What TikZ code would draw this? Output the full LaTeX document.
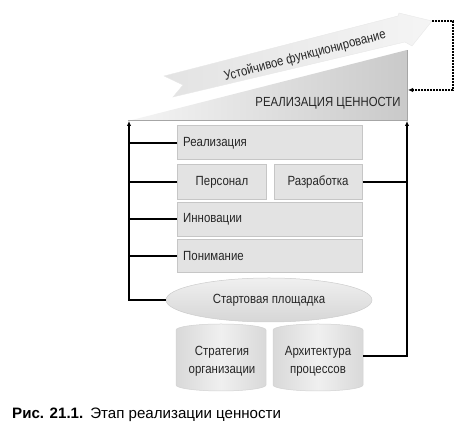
\documentclass[tikz,border=0pt]{standalone}
\usepackage{fontspec}
\setmainfont{Liberation Sans}[FakeStretch=0.86]
\newfontfamily\capfont{Liberation Sans}
\usetikzlibrary{arrows.meta,shapes.geometric,calc}
\begin{document}
\begin{tikzpicture}[x=1pt,y=1pt,
  txt/.style={font=\fontsize{13.3}{15}\selectfont, text=black!85, inner sep=0pt},
  blk/.style={draw=gray!45, line width=0.5pt, fill=gray!22, inner sep=0pt, anchor=south west},
  conn/.style={line width=1.2pt, black},
  tip/.style={-{Latex[length=5pt,width=4.5pt]}},
  cyl/.style={draw=gray!35, line width=0.5pt, left color=gray!30, right color=gray!30, middle color=gray!12}
]
\useasboundingbox (0,0) rectangle (464,438);

% wedge "value realization"
\path[left color=gray!8, right color=gray!42] (128,317) -- (407,388) -- (407,317) -- cycle;
\draw[gray!70, line width=1pt] (128,317) -- (407,317) -- (407,388);
\node[txt, font=\fontsize{13.2}{15}\selectfont] (wedgetxt) at (328,335) {РЕАЛИЗАЦИЯ ЦЕННОСТИ};
\coordinate (wedgeL) at (129,317);
\coordinate (wedgeR) at (407,317);
\coordinate (wedgeside) at (408,348);

% big arrow
\path[left color=gray!22, right color=gray!8, draw=gray!18, line width=0.4pt]
  (164,362) -- (398,422) -- (399,425) -- (432,417) -- (412,392) -- (405,396)
  -- (173,341) -- (183,353) -- cycle;
\coordinate (arrowtip) at (432,417);
\node[txt, rotate=14.8] (arrowtxt) at (305,382) {Устойчивое функционирование};

% dotted feedback
\draw[line width=1.6pt, dash pattern=on 1.6pt off 1.4pt, -{Latex[length=5pt,width=4.5pt]}]
  (arrowtip) -- (453,417) |- (wedgeside);

% boxes
\node[blk, minimum width=185pt, minimum height=34pt] (real) at (177,278) {};
\node[txt, anchor=west] (realt) at (183,295) {Реализация};
\node[blk, minimum width=89pt, minimum height=35pt] (pers) at (177,238) {};
\node[txt] (perst) at (222,256) {Персонал};
\node[blk, minimum width=88pt, minimum height=35pt] (razr) at (274,238) {};
\node[txt] (razrt) at (318,256) {Разработка};
\node[blk, minimum width=185pt, minimum height=34pt] (innov) at (177,201) {};
\node[txt, anchor=west] (innovt) at (183,219) {Инновации};
\node[blk, minimum width=185pt, minimum height=33pt] (ponim) at (177,165) {};
\node[txt, anchor=west] (ponimt) at (183,182) {Понимание};

% cylinders
\path[cyl] (176,108) -- (176,53) arc[start angle=180, end angle=360, x radius=45, y radius=6]
  -- (266,108) arc[start angle=0, end angle=180, x radius=45, y radius=6] -- cycle;
\node[txt, align=center, font=\fontsize{13.3}{18}\selectfont] (strat) at (222,77) {Стратегия\\организации};
\path[cyl] (273,108) -- (273,53) arc[start angle=180, end angle=360, x radius=45, y radius=6]
  -- (363,108) arc[start angle=0, end angle=180, x radius=45, y radius=6] -- cycle;
\node[txt, align=center, font=\fontsize{13.3}{18}\selectfont] (arch) at (318,77) {Архитектура\\процессов};
\coordinate (archR) at (363,82);

% ellipse
\node[ellipse, draw=gray!40, line width=0.5pt, top color=gray!12, bottom color=gray!32,
  minimum width=206pt, minimum height=44pt, inner sep=0pt] (start) at (269,138) {};
\node[txt] (startt) at (269,138) {Стартовая площадка};

% left feedback line
\draw[conn, tip] (start.west) -- (start.west -| wedgeL) -- (wedgeL);
\draw[conn] (real.west |- realt) -- (realt -| wedgeL);
\draw[conn] (pers.west |- perst) -- (perst -| wedgeL);
\draw[conn] (innov.west |- innovt) -- (innovt -| wedgeL);
\draw[conn] (ponim.west |- ponimt) -- (ponimt -| wedgeL);

% right feedback line
\draw[conn, tip] (archR) -- (archR -| wedgeR) -- (wedgeR);
\draw[conn] (razr.east |- razrt) -- (razrt -| wedgeR);

% caption
\node[anchor=base west, inner sep=0pt, font=\capfont\fontsize{15.1}{17}\selectfont] (cap) at (12,19)
  {\textbf{Рис. 21.1.}\hspace{7pt}Этап реализации ценности};
\end{tikzpicture}
\end{document}
